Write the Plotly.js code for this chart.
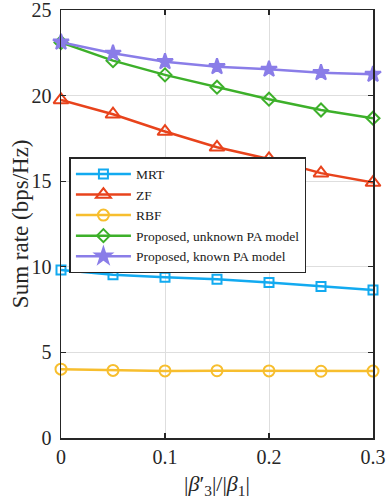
<!DOCTYPE html>
<html>
<head>
<meta charset="utf-8">
<script src="https://cdn.plot.ly/plotly-3.0.1.min.js"></script>
<style>
  html, body { margin: 0; padding: 0; background: #fff; }
  #plot { width: 388px; height: 504px; }
</style>
</head>
<body>
<div id="plot"></div>
<script>
// x axis: |beta'_3| / |beta_1|
const ratio = [0, 0.05, 0.1, 0.15, 0.2, 0.25, 0.3];

// sum rate (bps/Hz)
const mrt = [9.82, 9.53, 9.39, 9.28, 9.08, 8.85, 8.65];
const zf = [19.75, 18.91, 17.9, 16.98, 16.3, 15.47, 14.92];
const rbf = [4.02, 3.95, 3.92, 3.93, 3.92, 3.9, 3.91];
const unknownPA = [23.1, 22.04, 21.21, 20.49, 19.79, 19.16, 18.68];
const knownPA = [23.12, 22.47, 21.98, 21.69, 21.54, 21.34, 21.24];

const seriesNames = ['MRT', 'ZF', 'RBF', 'Proposed, unknown PA model', 'Proposed, known PA model'];
const xTicks = [0, 0.1, 0.2, 0.3];
const yTicks = [0, 5, 10, 15, 20, 25];

const serif = 'Liberation Serif, Times New Roman, serif';
const axisCol = '#262626';

function line(y, name, color, symbol, size) {
  return {
    x: ratio, y: y, name: name,
    type: 'scatter', mode: 'lines+markers',
    line: { color: color, width: 2.5 },
    marker: { symbol: symbol, size: size, color: color, line: { color: color, width: 2 } },
    cliponaxis: false
  };
}

const data = [
  line(mrt, seriesNames[0], '#12AAF0', 'square-open', 9),
  line(zf, seriesNames[1], '#E8431C', 'triangle-up-open', 13),
  line(rbf, seriesNames[2], '#F7BE2E', 'circle-open', 11),
  line(unknownPA, seriesNames[3], '#3DB02A', 'diamond-open', 10),
  line(knownPA, seriesNames[4], '#8A7DE8', 'star', 12)
];

const axisBase = {
  showline: true, mirror: 'ticks', linecolor: axisCol, linewidth: 1.5,
  ticks: 'inside', ticklen: 5, tickcolor: axisCol, tickwidth: 1.2,
  showgrid: true, gridcolor: '#dedede', gridwidth: 1,
  zeroline: false, ticklabeloverflow: 'allow',
  tickfont: { family: serif, size: 20, color: axisCol }
};

const layout = {
  width: 388, height: 504,
  margin: { l: 61, r: 15, t: 10, b: 66 },
  paper_bgcolor: '#fff', plot_bgcolor: '#fff',
  showlegend: true,
  legend: {
    x: 0.027, y: 0.656, xanchor: 'left', yanchor: 'top',
    bgcolor: '#fff', bordercolor: axisCol, borderwidth: 1.5,
    font: { family: serif, size: 13.5, color: '#1a1a1a' },
    itemwidth: 55, tracegroupgap: 0
  },
  xaxis: Object.assign({}, axisBase, {
    range: [0, 0.3], tickvals: xTicks, ticktext: xTicks.map(String),
    title: { text: '|<i>β</i>′<sub>3</sub>|/|<i>β</i><sub>1</sub>|', font: { family: serif, size: 22, color: axisCol }, standoff: 9 }
  }),
  yaxis: Object.assign({}, axisBase, {
    range: [0, 25], tickvals: yTicks, ticktext: yTicks.map(String),
    ticklabelstandoff: 4
  }),
  annotations: [{
    text: 'Sum rate (bps/Hz)', textangle: -90,
    xref: 'paper', yref: 'paper', x: -0.131, y: 0.5,
    xanchor: 'center', yanchor: 'middle', showarrow: false,
    font: { family: serif, size: 23, color: axisCol }
  }]
};

Plotly.newPlot('plot', data, layout, { displayModeBar: false, staticPlot: true });
</script>
</body>
</html>
